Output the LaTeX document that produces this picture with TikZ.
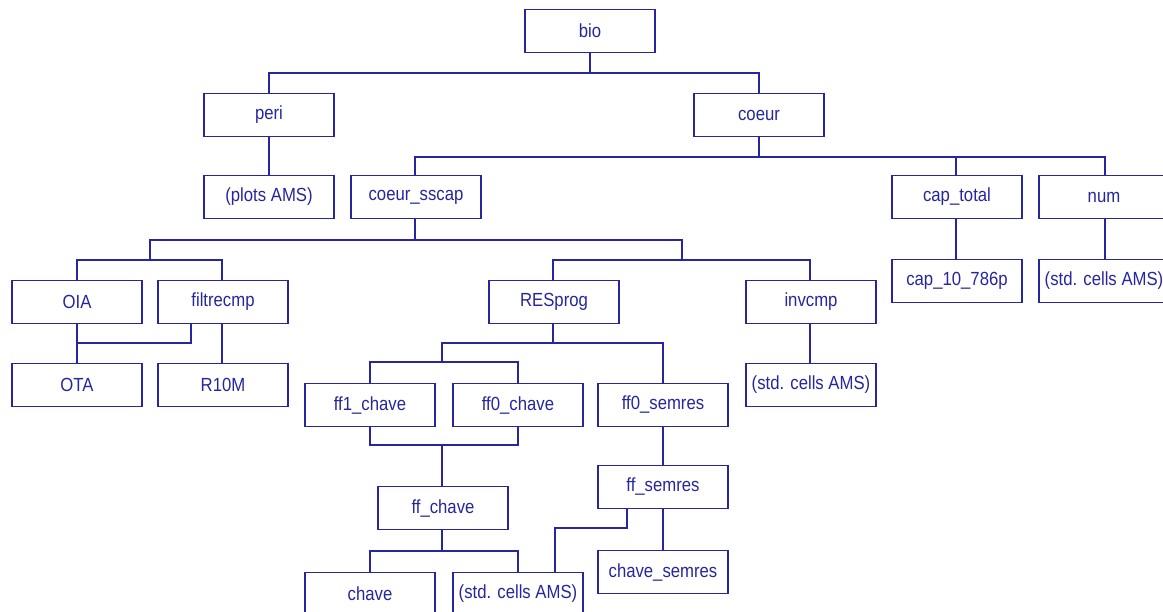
\documentclass[tikz,border=0pt]{standalone}
\usepackage{fontspec}
\setmainfont{Liberation Sans}[FakeStretch=0.88]
\usepackage{tikz}
\definecolor{treeblue}{RGB}{38,38,158}

\begin{document}
\begin{tikzpicture}[x=1pt, y=-1pt, line width=1.8pt, draw=treeblue,
    blk/.style={draw=treeblue, line width=1.8pt, text=treeblue,
        minimum width=130pt, minimum height=43pt, inner sep=0pt,
        font=\fontsize{19}{22}\selectfont}]
    % Page
    \fill[white] ({0}, {0}) rectangle ({1163}, {611});
    \useasboundingbox ({0}, {0}) rectangle ({1163}, {611});

    % Level 0 and 1
    \node[blk] (bio) at ({590}, {31}) {bio};
    \node[blk] (peri) at ({269}, {115}) {peri};
    \node[blk] (coeur) at ({759}, {115}) {coeur};
    \coordinate (bioBus) at ({590}, {73});
    \draw (bio.south) -- (bioBus);
    \draw (peri.north) |- (bioBus) -| (coeur.north);

    % Level 2
    \node[blk] (plots) at ({269}, {197}) {(plots AMS)};
    \node[blk] (sscap) at ({416}, {197}) {coeur\_sscap};
    \node[blk] (captotal) at ({957}, {197}) {cap\_total};
    \node[blk] (num) at ({1104}, {197}) {num};
    \draw (peri) -- (plots);
    \coordinate (coeurBus) at ({759}, {157});
    \draw (coeur.south) -- (coeurBus);
    \draw ([xshift=-1]sscap.north) |- (coeurBus) -| ([xshift=1]num.north);
    \draw ([xshift=-1]captotal.north) |- (coeurBus);

    \node[blk] (cap10) at ({957}, {281}) {cap\_10\_786p};
    \node[blk] (stdnum) at ({1104}, {281}) {(std. cells AMS)};
    \draw ([xshift=-1]captotal.south) -- ([xshift=-1]cap10.north);
    \draw ([xshift=1]num.south) -- ([xshift=1]stdnum.north);

    % Level 3
    \node[blk] (OIA) at ({77}, {302}) {OIA};
    \node[blk] (filtrecmp) at ({223}, {302}) {filtrecmp};
    \node[blk] (RESprog) at ({554}, {302}) {RESprog};
    \node[blk] (invcmp) at ({811}, {302}) {invcmp};
    \coordinate (sscapBus) at ({415}, {240});
    \coordinate (leftBus) at ({150}, {260});
    \coordinate (rightBus) at ({682}, {260});
    \draw ([xshift=-1]sscap.south) -- (sscapBus);
    \draw (leftBus) |- (sscapBus) -| (rightBus);
    \draw (OIA.north) |- (leftBus) -| ([xshift=-1]filtrecmp.north);
    \draw ([xshift=-1]RESprog.north) |- (rightBus) -| ([xshift=-1]invcmp.north);

    % Level 4
    \node[blk] (OTA) at ({77}, {385}) {OTA};
    \node[blk] (R10M) at ({223}, {385}) {R10M};
    \node[blk] (stdinv) at ({811}, {385}) {(std. cells AMS)};
    \draw (OIA) -- (OTA);
    \draw ([xshift=-32]filtrecmp.south) |- ({77}, {343});
    \draw ([xshift=-1]filtrecmp.south) -- ([xshift=-1]R10M.north);
    \draw ([xshift=-1]invcmp.south) -- ([xshift=-1]stdinv.north);

    \node[blk] (ff1) at ({370}, {405}) {ff1\_chave};
    \node[blk] (ff0) at ({518}, {405}) {ff0\_chave};
    \node[blk] (ff0semres) at ({663}, {405}) {ff0\_semres};
    \coordinate (resBus) at ({553}, {343});
    \coordinate (chaveBus) at ({442}, {362});
    \draw ([xshift=-1]RESprog.south) -- (resBus);
    \draw (chaveBus) |- (resBus) -| (ff0semres.north);
    \draw (ff1.north) |- (chaveBus) -| (ff0.north);

    % Level 5
    \node[blk] (ffchave) at ({443}, {508}) {ff\_chave};
    \node[blk] (ffsemres) at ({663}, {487}) {ff\_semres};
    \coordinate (ffJoin) at ({442}, {445});
    \draw (ff1.south) |- (ffJoin) -| (ff0.south);
    \draw (ffJoin) -- ([xshift=-1]ffchave.north);
    \draw (ff0semres) -- (ffsemres);

    % Level 6
    \node[blk] (chave) at ({370}, {594}) {chave};
    \node[blk] (stdff) at ({518}, {594}) {(std. cells AMS)};
    \node[blk] (chavesemres) at ({663}, {572}) {chave\_semres};
    \coordinate (leafBus) at ({442}, {551});
    \draw ([xshift=-1]ffchave.south) -- (leafBus);
    \draw (chave.north) |- (leafBus) -| (stdff.north);
    \draw (ffsemres) -- (chavesemres);
    \draw ([xshift=-36]ffsemres.south) |- ({591}, {528}) -| ([xshift=37]stdff.north);
\end{tikzpicture}
\end{document}
